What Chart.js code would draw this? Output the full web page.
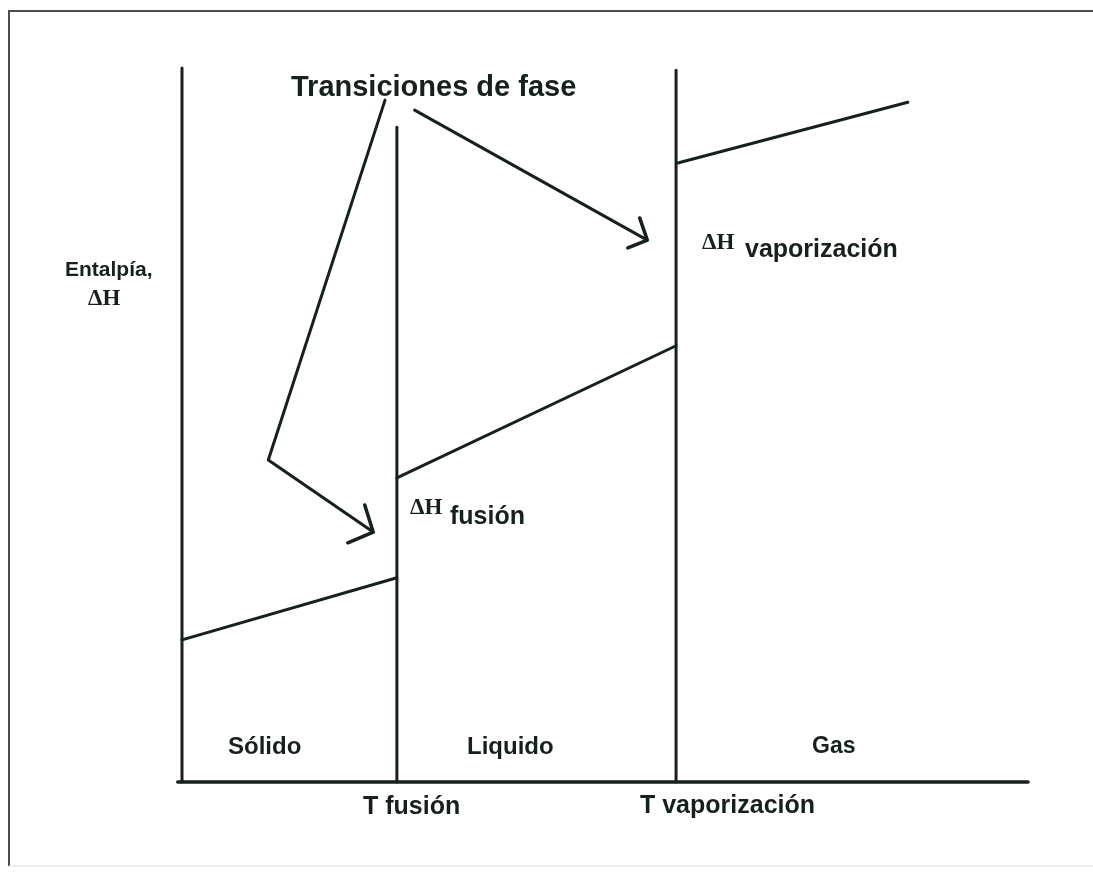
<!DOCTYPE html>
<html>
<head>
<meta charset="utf-8">
<script src="https://cdn.jsdelivr.net/npm/chart.js@4.4.0/dist/chart.umd.min.js"></script>
<style>
  html, body { margin: 0; padding: 0; background: #fff; }
  #wrap { width: 1093px; height: 881px; }
</style>
</head>
<body>
<div id="wrap"><canvas id="chart"></canvas></div>
<script>
// temperature runs 0..100 along x, enthalpy 0..100 along y (arbitrary units)
const transitionTemps = [25.4, 58.4];          // T fusión, T vaporización
const transitionTops = [91.7, 99.7];
const tempLabels = ['T fusión', 'T vaporización'];
const phaseLabels = ['Sólido', 'Liquido', 'Gas'];

// enthalpy line of each phase: start/end temperature and enthalpy
const phaseX = [[0, 25.4], [25.4, 58.4], [58.6, 85.8]];
const phaseH = [[19.9, 28.6], [42.6, 61.1], [86.7, 95.2]];

// hand drawn arrows from the title
const arrowFusionX = [24.0, 10.2, 22.6];
const arrowFusionY = [95.5, 45.1, 35.0];
const headFusionX = [21.6, 22.6, 19.6];
const headFusionY = [38.8, 35.0, 33.5];
const arrowVapX = [27.5, 55.0];
const arrowVapY = [94.1, 75.9];
const headVapX = [54.1, 55.0, 52.7];
const headVapY = [79.0, 75.9, 74.8];

const titleText = 'Transiciones de fase';
const yTitle = ['Entalpía,', 'ΔH'];
const deltaLabels = [['ΔH', 'fusión'], ['ΔH', 'vaporización']];

const ink = '#17211b';

const pts = (xs, ys) => xs.map((x, i) => ({ x: x, y: ys[i] }));

const line = (data, w) => ({
  data: data,
  showLine: true,
  borderColor: ink,
  borderWidth: w || 3,
  pointRadius: 0,
  fill: false,
  clip: false,
  borderCapStyle: 'round',
  borderJoinStyle: 'round'
});

const datasets = [];
// axes
datasets.push(line(pts([-0.5, 100], [0, 0]), 3.5));
datasets.push(line(pts([0, 0], [0, 100]), 3));
// transition verticals
transitionTemps.forEach((t, i) => {
  datasets.push(line(pts([t, t], [0, transitionTops[i]]), 3));
});
// phase segments
phaseX.forEach((xs, i) => {
  datasets.push(line(pts(xs, phaseH[i]), 3));
});
// arrows
datasets.push(line(pts(arrowFusionX, arrowFusionY), 3));
datasets.push(line(pts(headFusionX, headFusionY), 3.5));
datasets.push(line(pts(arrowVapX, arrowVapY), 3));
datasets.push(line(pts(headVapX, headVapY), 3.5));

const textPlugin = {
  id: 'texts',
  beforeDraw(chart) {
    const ctx = chart.ctx;
    ctx.save();
    ctx.fillStyle = '#fff';
    ctx.fillRect(0, 0, chart.width, chart.height);
    // scanned frame
    ctx.strokeStyle = '#4a4f4b';
    ctx.lineWidth = 2;
    ctx.beginPath();
    ctx.moveTo(1093, 11);
    ctx.lineTo(9, 11);
    ctx.lineTo(9, 866);
    ctx.stroke();
    ctx.strokeStyle = '#d8dad8';
    ctx.lineWidth = 1;
    ctx.beginPath();
    ctx.moveTo(9, 866);
    ctx.lineTo(1093, 866);
    ctx.stroke();
    ctx.restore();
  },
  afterDraw(chart) {
    const ctx = chart.ctx;
    ctx.save();
    ctx.fillStyle = ink;
    ctx.textAlign = 'left';
    ctx.textBaseline = 'alphabetic';
    const sans = s => 'bold ' + s + 'px "Liberation Sans", Arial, sans-serif';
    const serif = s => 'bold ' + s + 'px "Liberation Serif", "Times New Roman", serif';

    ctx.font = sans(29);
    ctx.fillText(titleText, 291, 96);

    ctx.font = sans(21);
    ctx.fillText(yTitle[0], 65, 276);
    ctx.font = serif(23);
    ctx.fillText(yTitle[1], 88, 305);

    ctx.font = serif(23);
    ctx.fillText(deltaLabels[0][0], 410, 514);
    ctx.font = sans(25);
    ctx.fillText(deltaLabels[0][1], 450, 524);
    ctx.font = serif(23);
    ctx.fillText(deltaLabels[1][0], 702, 249);
    ctx.font = sans(25);
    ctx.fillText(deltaLabels[1][1], 745, 257);

    ctx.font = sans(24);
    ctx.fillText(phaseLabels[0], 228, 754);
    ctx.fillText(phaseLabels[1], 467, 754);
    ctx.font = sans(23);
    ctx.fillText(phaseLabels[2], 812, 753);

    ctx.font = sans(25);
    ctx.fillText(tempLabels[0], 363, 814);
    ctx.fillText(tempLabels[1], 640, 813);
    ctx.restore();
  }
};

new Chart(document.getElementById('chart'), {
  type: 'scatter',
  data: { datasets: datasets },
  options: {
    responsive: true,
    maintainAspectRatio: false,
    animation: false,
    layout: { padding: { left: 182, right: 65, top: 68, bottom: 99 } },
    plugins: { legend: { display: false }, tooltip: { enabled: false } },
    scales: {
      x: { type: 'linear', min: 0, max: 100, display: false },
      y: { type: 'linear', min: 0, max: 100, display: false }
    }
  },
  plugins: [textPlugin]
});
</script>
</body>
</html>
